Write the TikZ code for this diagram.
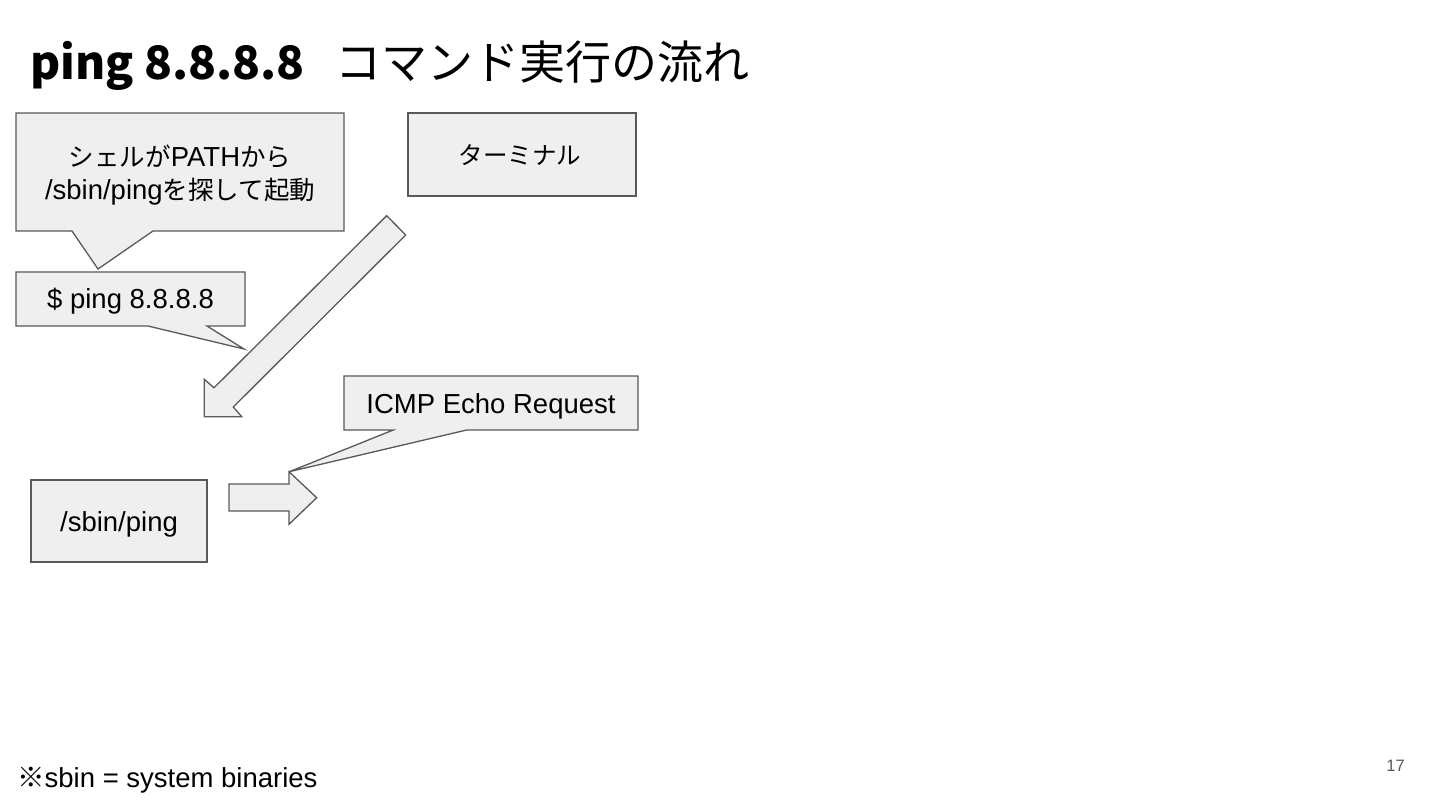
\documentclass[tikz,border=0pt]{standalone}
\usepackage{fontspec}
\setmainfont{Liberation Sans}
\newfontfamily\jp{Noto Sans CJK JP}
\definecolor{edge}{HTML}{595959}
\definecolor{boxfill}{HTML}{EFEFEF}
\newcommand{\jpt}[1]{{\jp\fontsize{25.5}{33}\selectfont #1}}
\tikzset{
  shapebox/.style={draw=edge, fill=boxfill, line width=1.3pt, line join=miter},
  lbl/.style={inner sep=0pt, align=center, font=\fontsize{27.5}{33}\selectfont},
}
\begin{document}
\begin{tikzpicture}[x=1pt,y=-1pt]
\useasboundingbox[fill=white] (0,0) rectangle (1440,810);

% title
\node[anchor=base west, inner sep=0pt] (title) at (30,80)
  {\jp\fontsize{46}{56}\selectfont\bfseries ping 8.8.8.8\hspace{31pt}\mdseries コマンド実行の流れ};

% callout: shell
\draw[shapebox] (16,113) -- (344,113) -- (344,231) -- (153,231) -- (98,269) -- (72,231) -- (16,231) -- cycle;
\node[lbl] (shell) at (180,175) {\jpt{シェルが}PATH\jpt{から}\\/sbin/ping\jpt{を探して起動}};

% terminal box
\node[shapebox, minimum width=228pt, minimum height=83pt] (termbox) at (522,154.5) {};
\node[lbl] (term) at (520,155) {\jp\fontsize{24.5}{30}\selectfont ターミナル};

% callout: command
\draw[shapebox] (16,272) -- (245,272) -- (245,326) -- (207,326) -- (244,349) -- (148,326) -- (16,326) -- cycle;
\node[lbl] (cmd) at (130.5,301.5) {\$ ping 8.8.8.8};

% big diagonal arrow (terminal -> /sbin/ping)
\draw[shapebox] (386.7,215.7) -- (214,387.8) -- (204.3,379.3) -- (204.3,416.7) -- (241.7,416.7) -- (233.3,407) -- (405.7,235) -- cycle;

% callout: ICMP
\draw[shapebox] (344,376) -- (638,376) -- (638,430) -- (466.7,430) -- (289.3,471.7) -- (393.3,430) -- (344,430) -- cycle;
\node[lbl] (icmp) at (491,406) {ICMP Echo Request};

% /sbin/ping box
\node[shapebox, minimum width=176pt, minimum height=82pt] (binbox) at (119,521) {};
\node[lbl] (bin) at (119,524) {/sbin/ping};

% right arrow
\draw[shapebox] (229,484) -- (289,484) -- (289,471.7) -- (316.7,497.7) -- (289,524.3) -- (289,511) -- (229,511) -- cycle;

% footnote
\node[anchor=base west, inner sep=0pt, font=\fontsize{27.5}{33}\selectfont] (note) at (17,787) {{\jp ※}sbin = system binaries};

% page number
\node[anchor=base, inner sep=0pt, text=edge, font=\fontsize{16.5}{20}\selectfont] (page) at (1395.5,771) {17};
\end{tikzpicture}
\end{document}
